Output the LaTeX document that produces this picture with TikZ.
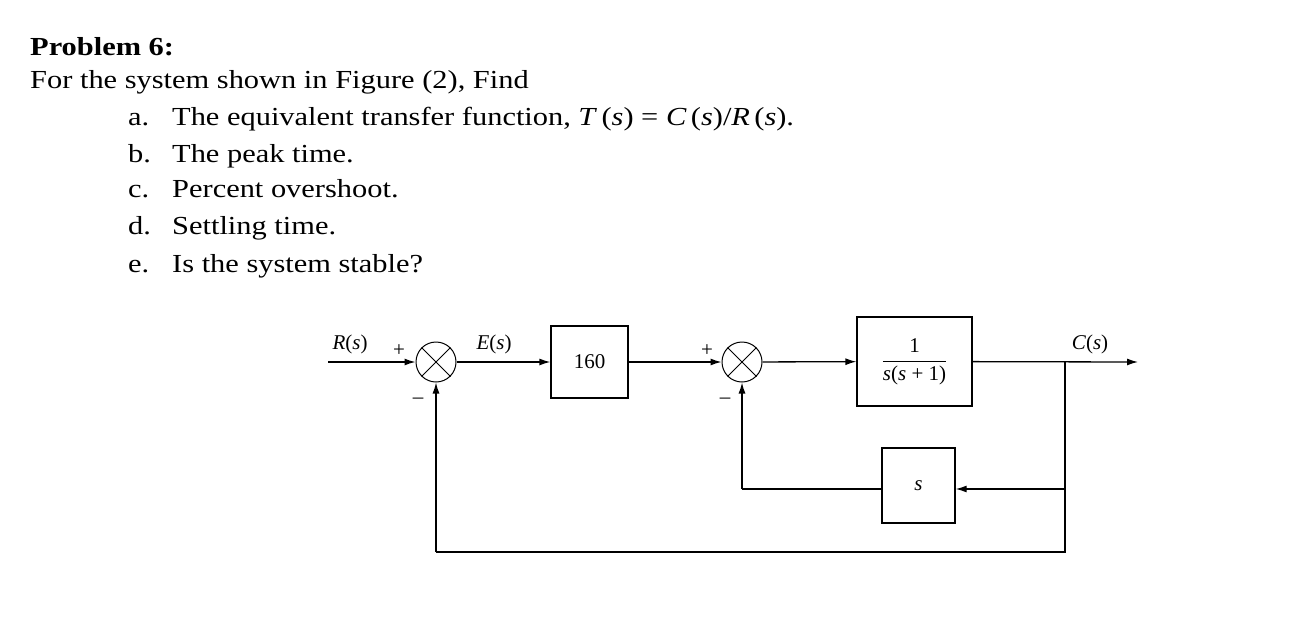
\documentclass[tikz,border=0pt]{standalone}
\usepackage{fontspec}
\setmainfont[FakeStretch=1.17]{Liberation Serif}
\newfontfamily\dfont{Liberation Serif}
\usetikzlibrary{arrows.meta,calc}
\begin{document}
\begin{tikzpicture}[x=1pt,y=-1pt,
  txt/.style={anchor=base west,inner sep=0pt,font=\fontsize{26}{30}\selectfont},
  lbl/.style={inner sep=0pt,font=\dfont\fontsize{21}{24}\selectfont},
  blk/.style={draw,line width=1.3pt,minimum width=#1,inner sep=0pt},
  sum/.style={draw,line width=1pt,circle,minimum size=40pt,inner sep=0pt},
  sig/.style={line width=1.3pt,-{Latex[length=11pt,width=7pt]}},
  ln/.style={line width=1.3pt}]
\useasboundingbox (0,0) rectangle (1302,643);
\node[txt,font=\fontsize{26}{30}\selectfont\bfseries] (t0) at (30,55) {Problem 6:};
\node[txt] (t1) at (30,88) {For the system shown in Figure (2), Find};
\node[txt] (a) at (128,125) {a.};\node[txt] (ta) at (172,125) {The equivalent transfer function, \textit{T}\,(\textit{s}) = \textit{C}\,(\textit{s})/\textit{R}\,(\textit{s}).};
\node[txt] (b) at (128,162) {b.};\node[txt] (tb) at (172,162) {The peak time.};
\node[txt] (c) at (128,197) {c.};\node[txt] (tc) at (172,197) {Percent overshoot.};
\node[txt] (d) at (128,234) {d.};\node[txt] (td) at (172,234) {Settling time.};
\node[txt] (e) at (128,272) {e.};\node[txt] (te) at (172,272) {Is the system stable?};

\node[sum] (s1) at (436,362) {};
\draw[line width=1pt] (s1.45)--(s1.225) (s1.135)--(s1.-45);
\node[sum] (s2) at (742,362) {};
\draw[line width=1pt] (s2.45)--(s2.225) (s2.135)--(s2.-45);
\node[blk=77pt,minimum height=72pt,lbl] (k) at (589.5,362) {160};
\node[blk=115pt,minimum height=89pt,lbl] (g) at (914.5,361.5) {$\displaystyle\frac{\mbox{1}}{\mbox{\textit{s}(\textit{s} + 1)}}$};
\node[blk=73pt,minimum height=75pt,lbl] (h) at (918.5,485.5) {\textit{s}};
\coordinate (r) at (328,362);
\coordinate (co) at (1138,362);
\coordinate (br) at (1065,362);
\coordinate (hb) at (1065,489);
\coordinate (bot) at (1065,552);
\coordinate (bl) at (436,552);
\coordinate (hl) at (742,489);

\draw[sig] (r)--(s1);
\draw[sig] (s1)--(k);
\draw[sig] (k)--(s2);
\draw[sig] (s2)--(g);
\draw[sig] (g)--(co);
\draw[ln] (br)--(bot)--(bl);
\draw[sig] (bl)--(s1.south);
\draw[sig] (hb)--(h.east |- hb);
\draw[ln] (h.west |- hl)--(hl);
\draw[sig] (hl)--(s2.south);

\node[lbl] (lr) at (350,344) {\textit{R}(\textit{s})};
\node[lbl] (le) at (494,344) {\textit{E}(\textit{s})};
\node[lbl] (lc) at (1090,344) {\textit{C}(\textit{s})};
\node[lbl] (p1) at (399,351) {+};
\node[lbl] (m1) at (418,401) {–};
\node[lbl] (p2) at (707,351) {+};
\node[lbl] (m2) at (725,401) {–};
\end{tikzpicture}
\end{document}
